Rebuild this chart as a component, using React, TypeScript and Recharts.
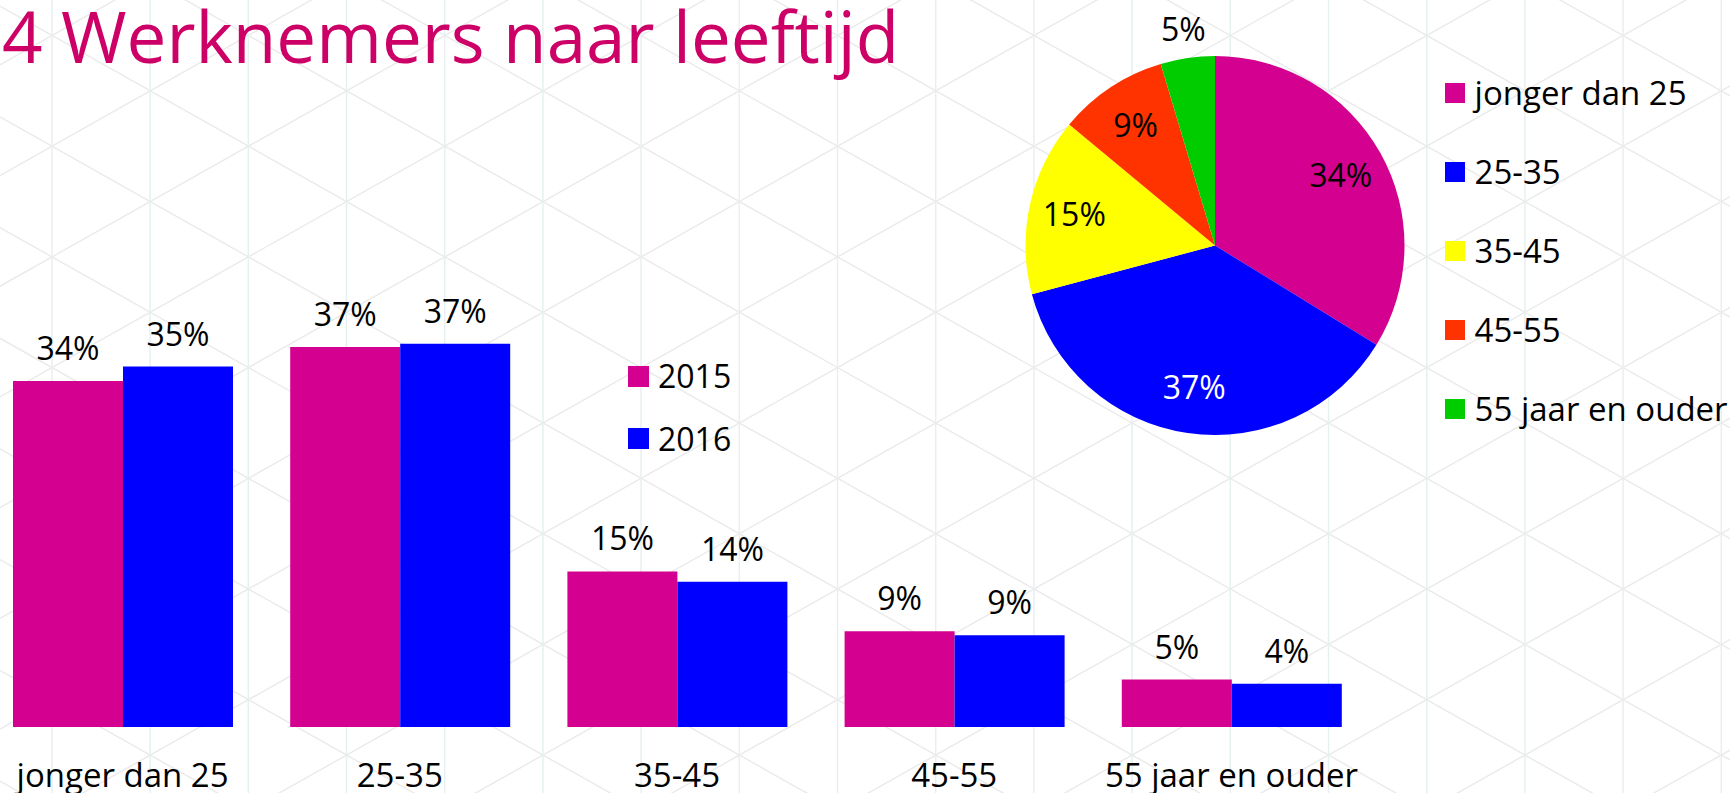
import React from 'react';
import { BarChart, Bar, XAxis, YAxis, LabelList, PieChart, Pie, Cell } from 'recharts';

const categories = ['jonger dan 25', '25-35', '35-45', '45-55', '55 jaar en ouder'];
const values2015 = [33.6, 36.9, 15.1, 9.3, 4.6];
const values2016 = [35.0, 37.2, 14.1, 8.9, 4.2];
const seriesNames = ['2015', '2016'];
const seriesColors = ['#D4008F', '#0000FF'];
const pieValues = values2015;
const pieColors = ['#D4008F', '#0000FF', '#FFFF00', '#FF3300', '#00CC00'];

const FONT = "'Open Sans', sans-serif";
const W = 1730;
const H = 793;

const barData = categories.map((name, i) => ({ name, v2015: values2015[i], v2016: values2016[i] }));
const pieData = categories.map((name, i) => ({ name, value: pieValues[i] }));

const pct = (v: any) => `${Math.round(Number(v))}%`;

// isometric grid behind everything, plus the title
const Background = () => {
    const x0 = 1426.7;
    const y0 = 478.3;
    const step = 98.2;
    const slope = 0.5637;
    const period = 110.7;

    const verticals: number[] = [];
    for (let x = x0 - Math.ceil(x0 / step) * step; x <= W; x += step) verticals.push(x);

    const diagonals: number[][] = [];
    for (let n = -14; n <= 14; n++) {
        const a = y0 - slope * x0 + period * n;
        diagonals.push([0, a, W, a + slope * W]);
        const b = y0 + slope * x0 + period * n;
        diagonals.push([0, b, W, b - slope * W]);
    }

    return (
        <svg width={W} height={H} style={{ position: 'absolute', left: 0, top: 0 }}>
            <rect width={W} height={H} fill="#fff" />
            {diagonals.map((d, i) => (
                <line key={`d-${i}`} x1={d[0]} y1={d[1]} x2={d[2]} y2={d[3]} stroke="#EBEBEB" strokeWidth={1.5} />
            ))}
            {verticals.map((x, i) => (
                <line key={`v-${i}`} x1={x} y1={0} x2={x} y2={H} stroke="#E7F0F1" strokeWidth={1.5} />
            ))}
            <text x={2} y={63} fontFamily={FONT} fontSize={71} fill="#CC0066">
                4 Werknemers naar leeftijd
            </text>
        </svg>
    );
};

const CategoryTick = (props: any) => {
    const { x, y, payload } = props;
    return (
        <text x={x} y={y + 60} textAnchor="middle" fontFamily={FONT} fontSize={33} fill="#000">
            {payload.value}
        </text>
    );
};

const RADIAN = Math.PI / 180;
const renderPieLabel = (props: any) => {
    const { cx, cy, midAngle, outerRadius, index, value } = props;
    const r = index === 4 ? outerRadius * 1.153 : outerRadius * 0.76;
    const px = cx + r * Math.cos(-midAngle * RADIAN);
    const py = cy + r * Math.sin(-midAngle * RADIAN);
    const fontSize = 32;
    return (
        <text
            x={px}
            y={py + fontSize * 0.357}
            textAnchor="middle"
            fontFamily={FONT}
            fontSize={fontSize}
            fill={index === 1 ? '#fff' : '#000'}
        >
            {pct(value)}
        </text>
    );
};

interface LegendItemProps {
    x: number;
    cy: number;
    color: string;
    label: string;
    size: number;
    gap: number;
    fontSize: number;
}

const LegendItem: React.FC<LegendItemProps> = ({ x, cy, color, label, size, gap, fontSize }) => (
    <div
        style={{
            position: 'absolute',
            left: x,
            top: cy - 22,
            height: 44,
            lineHeight: '44px',
            display: 'flex',
            alignItems: 'center',
            whiteSpace: 'nowrap',
            fontFamily: FONT,
            fontSize,
            color: '#000',
        }}
    >
        <span style={{ display: 'inline-block', width: size, height: size, background: color, marginRight: gap }} />
        <span>{label}</span>
    </div>
);

export default function App() {
    return (
        <div style={{ position: 'absolute', left: 0, top: 0, width: W, height: H, overflow: 'hidden', background: '#fff' }}>
            <Background />

            <div style={{ position: 'absolute', left: -16, top: 0 }}>
                <BarChart
                    width={1386}
                    height={H}
                    data={barData}
                    margin={{ top: 315, right: 0, bottom: 0, left: 0 }}
                    barGap={0}
                    barSize={110}
                >
                    <YAxis hide domain={[0, 40]} />
                    <XAxis
                        dataKey="name"
                        axisLine={false}
                        tickLine={false}
                        tickSize={0}
                        tickMargin={0}
                        height={66}
                        interval={0}
                        tick={<CategoryTick />}
                    />
                    <Bar dataKey="v2015" name={seriesNames[0]} fill={seriesColors[0]} isAnimationActive={false}>
                        <LabelList dataKey="v2015" position="top" offset={21} formatter={pct} fill="#000" fontSize={32} fontFamily={FONT} />
                    </Bar>
                    <Bar dataKey="v2016" name={seriesNames[1]} fill={seriesColors[1]} isAnimationActive={false}>
                        <LabelList dataKey="v2016" position="top" offset={21} formatter={pct} fill="#000" fontSize={32} fontFamily={FONT} />
                    </Bar>
                </BarChart>
            </div>

            <div style={{ position: 'absolute', left: 1000, top: 0 }}>
                <PieChart width={730} height={520}>
                    <Pie
                        data={pieData}
                        dataKey="value"
                        nameKey="name"
                        cx={210}
                        cy={240.5}
                        outerRadius={189.5}
                        startAngle={90}
                        endAngle={-270}
                        stroke="none"
                        labelLine={false}
                        label={renderPieLabel}
                        isAnimationActive={false}
                    >
                        {pieData.map((entry, index) => (
                            <Cell key={`cell-${index}`} fill={pieColors[index]} />
                        ))}
                    </Pie>
                </PieChart>
            </div>

            {seriesNames.map((name, i) => (
                <LegendItem key={name} x={628.3} cy={376.3 + i * 62.4} color={seriesColors[i]} label={name} size={20.7} gap={9} fontSize={32} />
            ))}

            {categories.map((name, i) => (
                <LegendItem key={name} x={1444.6} cy={92.6 + i * 79.2} color={pieColors[i]} label={name} size={20} gap={10} fontSize={33} />
            ))}
        </div>
    );
}
